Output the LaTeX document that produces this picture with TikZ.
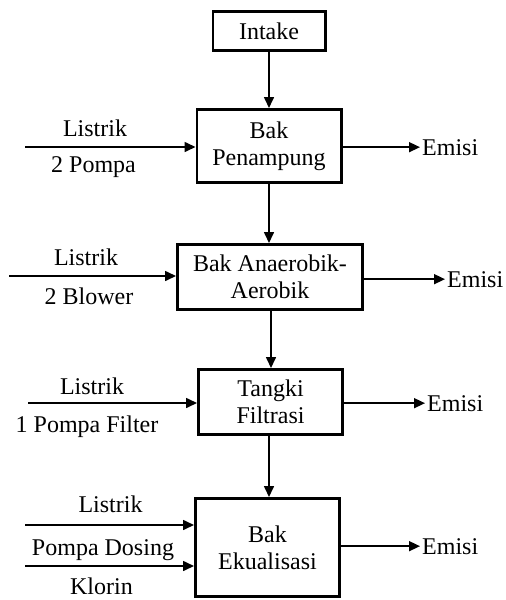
\documentclass[tikz,border=0pt]{standalone}
\usepackage{fontspec}
\setmainfont{Liberation Serif}
\usetikzlibrary{arrows.meta}

\begin{document}
\begin{tikzpicture}[x=1pt,y=-1pt,
	font=\fontsize{24}{27}\selectfont,
	box/.style={draw,line width=2.6pt,align=center,inner sep=0pt},
	lbl/.style={inner sep=2pt},
	flow/.style={-{Triangle[length=11pt,width=10pt]},line width=1.6pt}]
			\useasboundingbox (0,0) rectangle (506,600);
			% proses utama
			\node[box,minimum width=112.4,minimum height=39.4] (intake) at (269,31) {Intake};
			\node[box,minimum width=144.4,minimum height=73.4] (penampung) at (269,146) {Bak\\Penampung};
			\node[box,minimum width=185.4,minimum height=65.4] (anaerob) at (270,277) {Bak Anaerobik-\\Aerobik};
			\node[box,minimum width=144.4,minimum height=65.4] (filtrasi) at (270.5,402) {Tangki\\Filtrasi};
			\node[box,minimum width=144.4,minimum height=98.4] (ekual) at (267.5,547.5) {Bak\\Ekualisasi};
			\draw[flow] (intake.south -| 269,0) -- (penampung.north -| 269,0);
			\draw[flow] (penampung.south -| 269,0) -- (anaerob.north -| 269,0);
			\draw[flow] (anaerob.south -| 271,0) -- (filtrasi.north -| 271,0);
			\draw[flow] (filtrasi.south -| 269,0) -- (ekual.north -| 269,0);
			% masukan
			\coordinate (in1) at (25,147);
			\coordinate (in2) at (9,276);
			\coordinate (in3) at (28,403);
			\coordinate (in4) at (25,525);
			\coordinate (in5) at (25,566);
			\draw[flow] (in1) -- (in1 -| penampung.west);
			\draw[flow] (in2) -- (in2 -| anaerob.west);
			\draw[flow] (in3) -- (in3 -| filtrasi.west);
			\draw[flow] (in4) -- (in4 -| ekual.west);
			\draw[flow] (in5) -- (in5 -| ekual.west);
			\node[lbl,anchor=base] (l1a) at (95,136) {Listrik};
			\node[lbl,anchor=base] (l1b) at (93.5,172) {2 Pompa};
			\node[lbl,anchor=base] (l2a) at (86,265) {Listrik};
			\node[lbl,anchor=base] (l2b) at (89,304) {2 Blower};
			\node[lbl,anchor=base] (l3a) at (92,394) {Listrik};
			\node[lbl,anchor=base] (l3b) at (87,432) {1 Pompa Filter};
			\node[lbl,anchor=base] (l4a) at (110.5,512) {Listrik};
			\node[lbl,anchor=base] (l4b) at (103,555) {Pompa Dosing};
			\node[lbl,anchor=base] (l4c) at (101.5,594) {Klorin};
			% emisi
			\node[lbl,anchor=base west] (e1) at (420,155) {Emisi};
			\node[lbl,anchor=base west] (e2) at (445,287) {Emisi};
			\node[lbl,anchor=base west] (e3) at (425,411) {Emisi};
			\node[lbl,anchor=base west] (e4) at (420,554) {Emisi};
			\draw[flow] (penampung.east |- e1.west) -- (e1.west);
			\draw[flow] (anaerob.east |- e2.west) -- (e2.west);
			\draw[flow] (filtrasi.east |- e3.west) -- (e3.west);
			\draw[flow] (ekual.east |- e4.west) -- (e4.west);
		\end{tikzpicture}
\end{document}
